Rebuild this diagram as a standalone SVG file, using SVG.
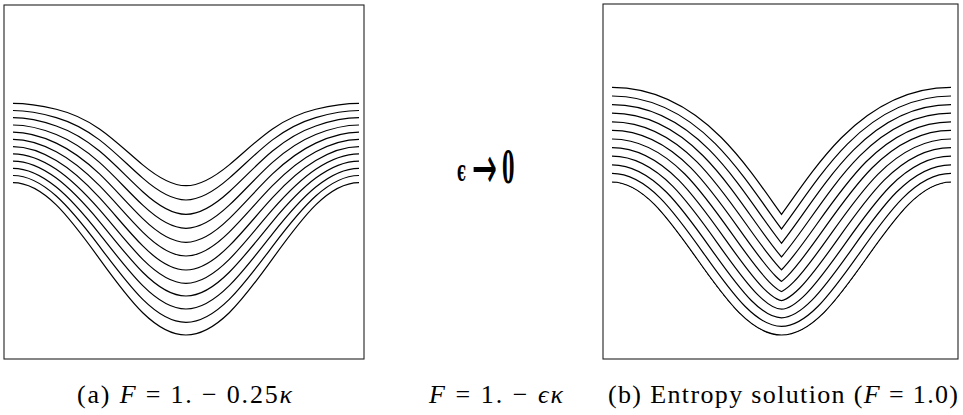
<svg xmlns="http://www.w3.org/2000/svg" width="963" height="415" viewBox="0 0 963 415">
<style>
.frame{fill:none;stroke:#222;stroke-width:1.1}
.front{fill:none;stroke:#000;stroke-width:1.2;vector-effect:non-scaling-stroke}
.cap{font-family:"Liberation Serif","Times New Roman",serif;font-size:26px;fill:#000}
.m{font-style:italic}
.blk{fill:none;stroke:#000;stroke-linecap:butt}
.wht{fill:none;stroke:#fff;stroke-linecap:butt}
</style>
<defs>
<path id="init" d="M612,182 C626.1,182 640.25,190.25 654.4,204.4 C668.5,218.6 682.6,238.5 696.75,258.5 C710.9,278.5 725,298.4 739.1,312.6 C753.25,326.75 767.4,335 781.5,335 C795.6,335 809.75,326.75 823.9,312.6 C838,298.4 852.1,278.5 866.25,258.5 C880.4,238.5 894.5,218.6 908.6,204.4 C922.75,190.25 936.9,182 951,182"/>
<clipPath id="above"><path d="M612,0 L612,182 C626.1,182 640.25,190.25 654.4,204.4 C668.5,218.6 682.6,238.5 696.75,258.5 C710.9,278.5 725,298.4 739.1,312.6 C753.25,326.75 767.4,335 781.5,335 C795.6,335 809.75,326.75 823.9,312.6 C838,298.4 852.1,278.5 866.25,258.5 C880.4,238.5 894.5,218.6 908.6,204.4 C922.75,190.25 936.9,182 951,182 L951,0 Z"/></clipPath>
</defs>

<g id="panel-a">
<rect class="frame" x="4" y="5" width="360" height="354"/>
<g id="fronts-a">
<path class="front" transform="matrix(1 0 0 82.4 0 103.3)" d="M13,0 C27.42,0 41.83,.030 56.25,.072 C70.67,.114 85.08,.190 99.5,.311 C113.92,.432 128.33,.601 142.75,.747 C157.17,.892 171.58,1 186,1 C200.42,1 214.83,.892 229.25,.747 C243.67,.601 258.08,.432 272.5,.311 C286.92,.190 301.33,.114 315.75,.072 C330.17,.030 344.58,0 359,0"/>
<path class="front" transform="matrix(1 0 0 89.5 0 110.5)" d="M13,0 C27.42,0 41.83,.032 56.25,.079 C70.67,.126 85.08,.206 99.5,.328 C113.92,.450 128.33,.616 142.75,.756 C157.17,.897 171.58,1 186,1 C200.42,1 214.83,.897 229.25,.756 C243.67,.616 258.08,.450 272.5,.328 C286.92,.206 301.33,.126 315.75,.079 C330.17,.032 344.58,0 359,0"/>
<path class="front" transform="matrix(1 0 0 96.6 0 117.7)" d="M13,0 C27.42,0 41.83,.034 56.25,.086 C70.67,.137 85.08,.222 99.5,.345 C113.92,.468 128.33,.630 142.75,.766 C157.17,.902 171.58,1 186,1 C200.42,1 214.83,.902 229.25,.766 C243.67,.630 258.08,.468 272.5,.345 C286.92,.222 301.33,.137 315.75,.086 C330.17,.034 344.58,0 359,0"/>
<path class="front" transform="matrix(1 0 0 103.3 0 125)" d="M13,0 C27.42,0 41.83,.036 56.25,.092 C70.67,.148 85.08,.238 99.5,.362 C113.92,.486 128.33,.645 142.75,.776 C157.17,.907 171.58,1 186,1 C200.42,1 214.83,.907 229.25,.776 C243.67,.645 258.08,.486 272.5,.362 C286.92,.238 301.33,.148 315.75,.092 C330.17,.036 344.58,0 359,0"/>
<path class="front" transform="matrix(1 0 0 110.1 0 132.2)" d="M13,0 C27.42,0 41.83,.039 56.25,.099 C70.67,.160 85.08,.255 99.5,.379 C113.92,.504 128.33,.659 142.75,.785 C157.17,.912 171.58,1 186,1 C200.42,1 214.83,.912 229.25,.785 C243.67,.659 258.08,.504 272.5,.379 C286.92,.255 301.33,.160 315.75,.099 C330.17,.039 344.58,0 359,0"/>
<path class="front" transform="matrix(1 0 0 116.6 0 139.4)" d="M13,0 C27.42,0 41.83,.041 56.25,.106 C70.67,.171 85.08,.271 99.5,.397 C113.92,.522 128.33,.674 142.75,.795 C157.17,.917 171.58,1 186,1 C200.42,1 214.83,.917 229.25,.795 C243.67,.674 258.08,.522 272.5,.397 C286.92,.271 301.33,.171 315.75,.106 C330.17,.041 344.58,0 359,0"/>
<path class="front" transform="matrix(1 0 0 123.4 0 146.6)" d="M13,0 C27.42,0 41.83,.043 56.25,.113 C70.67,.182 85.08,.287 99.5,.414 C113.92,.540 128.33,.688 142.75,.805 C157.17,.922 171.58,1 186,1 C200.42,1 214.83,.922 229.25,.805 C243.67,.688 258.08,.540 272.5,.414 C286.92,.287 301.33,.182 315.75,.113 C330.17,.043 344.58,0 359,0"/>
<path class="front" transform="matrix(1 0 0 129.4 0 153.9)" d="M13,0 C27.42,0 41.83,.045 56.25,.119 C70.67,.194 85.08,.304 99.5,.431 C113.92,.558 128.33,.703 142.75,.815 C157.17,.926 171.58,1 186,1 C200.42,1 214.83,.926 229.25,.815 C243.67,.703 258.08,.558 272.5,.431 C286.92,.304 301.33,.194 315.75,.119 C330.17,.045 344.58,0 359,0"/>
<path class="front" transform="matrix(1 0 0 134.9 0 161.1)" d="M13,0 C27.42,0 41.83,.047 56.25,.126 C70.67,.205 85.08,.320 99.5,.448 C113.92,.577 128.33,.717 142.75,.824 C157.17,.931 171.58,1 186,1 C200.42,1 214.83,.931 229.25,.824 C243.67,.717 258.08,.577 272.5,.448 C286.92,.320 301.33,.205 315.75,.126 C330.17,.047 344.58,0 359,0"/>
<path class="front" transform="matrix(1 0 0 140.7 0 168.3)" d="M13,0 C27.42,0 41.83,.050 56.25,.133 C70.67,.216 85.08,.336 99.5,.466 C113.92,.595 128.33,.732 142.75,.834 C157.17,.936 171.58,1 186,1 C200.42,1 214.83,.936 229.25,.834 C243.67,.732 258.08,.595 272.5,.466 C286.92,.336 301.33,.216 315.75,.133 C330.17,.050 344.58,0 359,0"/>
<path class="front" transform="matrix(1 0 0 146.8 0 175.5)" d="M13,0 C27.42,0 41.83,.052 56.25,.140 C70.67,.228 85.08,.353 99.5,.483 C113.92,.613 128.33,.746 142.75,.844 C157.17,.941 171.58,1 186,1 C200.42,1 214.83,.941 229.25,.844 C243.67,.746 258.08,.613 272.5,.483 C286.92,.353 301.33,.228 315.75,.140 C330.17,.052 344.58,0 359,0"/>
<path class="front" transform="matrix(1 0 0 152.3 0 182.7)" d="M13,0 C27.42,0 41.83,.054 56.25,.146 C70.67,.239 85.08,.369 99.5,.500 C113.92,.631 128.33,.761 142.75,.854 C157.17,.946 171.58,1 186,1 C200.42,1 214.83,.946 229.25,.854 C243.67,.761 258.08,.631 272.5,.500 C286.92,.369 301.33,.239 315.75,.146 C330.17,.054 344.58,0 359,0"/>
</g>
</g>

<g id="panel-b">
<rect class="frame" x="603" y="4" width="355" height="355"/>
<g id="fronts-b">
<g clip-path="url(#above)">
<use href="#init" class="blk" stroke-width="190.4"/><use href="#init" class="wht" stroke-width="188"/>
<use href="#init" class="blk" stroke-width="173.2"/><use href="#init" class="wht" stroke-width="170.8"/>
<use href="#init" class="blk" stroke-width="156"/><use href="#init" class="wht" stroke-width="153.6"/>
<use href="#init" class="blk" stroke-width="138.8"/><use href="#init" class="wht" stroke-width="136.4"/>
<use href="#init" class="blk" stroke-width="121.6"/><use href="#init" class="wht" stroke-width="119.2"/>
<use href="#init" class="blk" stroke-width="104.4"/><use href="#init" class="wht" stroke-width="102"/>
<use href="#init" class="blk" stroke-width="87.2"/><use href="#init" class="wht" stroke-width="84.8"/>
<use href="#init" class="blk" stroke-width="70"/><use href="#init" class="wht" stroke-width="67.6"/>
<use href="#init" class="blk" stroke-width="52.8"/><use href="#init" class="wht" stroke-width="50.4"/>
<use href="#init" class="blk" stroke-width="35.6"/><use href="#init" class="wht" stroke-width="33.2"/>
<use href="#init" class="blk" stroke-width="18.4"/><use href="#init" class="wht" stroke-width="16"/>
</g>
<use href="#init" class="blk" stroke-width="1.2"/>
</g>
</g>

<g id="limit">
<text transform="translate(457,182) scale(0.5,1)" font-family="DejaVu Sans, Liberation Serif, sans-serif" font-weight="bold" fill="#000"><tspan x="0" dy="-1" font-size="30" font-family="DejaVu Serif, serif">ϵ</tspan><tspan x="30" dy="7" font-size="60" font-weight="normal">→</tspan><tspan x="90" dy="-5" font-size="50" font-family="Liberation Serif, serif">0</tspan></text>
</g>

<g id="captions">
<text class="cap" x="77" y="403" textLength="215" lengthAdjust="spacing">(a) <tspan class="m">F</tspan> = 1. − 0.25<tspan class="m">κ</tspan></text>
<text class="cap" x="429" y="403" textLength="134" lengthAdjust="spacing"><tspan class="m">F</tspan> = 1. − <tspan class="m">ϵκ</tspan></text>
<text class="cap" x="608" y="403" textLength="350" lengthAdjust="spacing">(b) Entropy solution (<tspan class="m">F</tspan> = 1.0)</text>
</g>
</svg>
